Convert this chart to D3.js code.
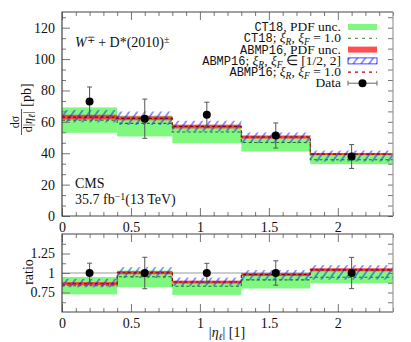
<!DOCTYPE html>
<html>
<head>
<meta charset="utf-8">
<script src="https://cdn.jsdelivr.net/npm/d3@7"></script>
<style>
  body { margin: 0; background: #fff; }
  text { font-family: "Liberation Serif", serif; fill: #111; }
  tspan.mono { font-family: "Liberation Mono", monospace; }
</style>
</head>
<body>
<svg id="chart" width="411" height="342"></svg>
<script>
// bins in |eta_l| and measured cross sections [pb]
var binEdges = [0, 0.4, 0.8, 1.3, 1.8, 2.4];
var binCenter = [0.2, 0.6, 1.05, 1.55, 2.1];
var dataVal = [73, 62, 64.5, 51.3, 37.9];
var dataErr = [9.2, 12.5, 8, 8, 7.6];
// CT18 prediction
var ct18Central = [61, 59, 53.5, 46.8, 35.8];
var ct18Lo = [53, 50.7, 46.4, 41.1, 33];
var ct18Hi = [69.2, 64, 57.5, 49.6, 38.5];
// ABMP16 prediction
var abmpCentral = [63, 62.2, 57, 50.3, 39.4];
var abmpPdfLo = [61.5, 61, 55.8, 49.3, 38.6];
var abmpPdfHi = [64.5, 63.5, 58.2, 51.3, 40.2];
var abmpScaleLo = [59.6, 58, 53.9, 46.4, 34.7];
var abmpScaleHi = [67.5, 66.6, 60.7, 53.2, 41.7];
// ticks
var xTicks = [0, 0.5, 1, 1.5, 2];
var yTicks = [0, 20, 40, 60, 80, 100, 120];
var rTicks = [0.75, 1, 1.25];

var svg = d3.select('#chart');
var x = d3.scaleLinear().domain([0, 2.4]).range([62, 393]);
var y = d3.scaleLinear().domain([0, 130]).range([216, 12]);
var yr = d3.scaleLinear().domain([0.5, 1.5]).range([312, 234]);

var green = '#80f880', red = '#f04838', blue = '#1a1aff';

var defs = svg.append('defs');
defs.append('pattern').attr('id', 'hatch').attr('patternUnits', 'userSpaceOnUse')
    .attr('width', 6.5).attr('height', 6.5).attr('patternTransform', 'rotate(35)')
  .append('line').attr('x1', 1).attr('x2', 1).attr('y1', 0).attr('y2', 6.5)
    .attr('stroke', blue).attr('stroke-width', 0.9);
defs.append('clipPath').attr('id', 'clipMain').append('rect')
    .attr('x', x(0)).attr('y', y(130)).attr('width', x(2.4) - x(0)).attr('height', y(0) - y(130));
defs.append('clipPath').attr('id', 'clipRatio').append('rect')
    .attr('x', x(0)).attr('y', yr(1.5)).attr('width', x(2.4) - x(0)).attr('height', yr(0.5) - yr(1.5));

/**
 * Draw bands and central lines into one panel.
 * @param {Object} ys y scale of the panel.
 * @param {Function} f maps (array, bin) to plotted value.
 */
var drawPanel = function(ys, f, clip) {
  var g = svg.append('g').attr('clip-path', 'url(#' + clip + ')');
  var bins = d3.range(dataVal.length);
  var band = function(lo, hi, fill) {
    g.selectAll(null).data(bins).enter().append('rect')
      .attr('x', function(i) { return x(binEdges[i]); })
      .attr('width', function(i) { return x(binEdges[i + 1]) - x(binEdges[i]); })
      .attr('y', function(i) { return ys(f(hi, i)); })
      .attr('height', function(i) { return ys(f(lo, i)) - ys(f(hi, i)); })
      .attr('fill', fill);
  };
  var step = function(arr, color) {
    var pts = [];
    bins.forEach(function(i) {
      pts.push([binEdges[i], f(arr, i)]);
      pts.push([binEdges[i + 1], f(arr, i)]);
    });
    g.append('path').datum(pts)
      .attr('d', d3.line().x(function(d) { return x(d[0]); }).y(function(d) { return ys(d[1]); }))
      .attr('fill', 'none').attr('stroke', color).attr('stroke-width', 1.1)
      .attr('stroke-dasharray', '3,2.5');
  };
  band(ct18Lo, ct18Hi, green);
  band(abmpPdfLo, abmpPdfHi, red);
  band(abmpScaleLo, abmpScaleHi, 'url(#hatch)');
  step(ct18Central, '#2e6b2e');
  step(abmpCentral, '#8a0000');
  return g;
};

var drawData = function(ys, vals, errs) {
  var g = svg.append('g');
  vals.forEach(function(v, i) {
    var cx = x(binCenter[i]);
    g.append('line').attr('x1', cx).attr('x2', cx)
      .attr('y1', ys(v - errs[i])).attr('y2', ys(v + errs[i]))
      .attr('stroke', '#555').attr('stroke-width', 1);
    [v - errs[i], v + errs[i]].forEach(function(e) {
      g.append('line').attr('x1', cx - 2.5).attr('x2', cx + 2.5)
        .attr('y1', ys(e)).attr('y2', ys(e)).attr('stroke', '#555');
    });
    g.append('circle').attr('cx', cx).attr('cy', ys(v)).attr('r', 4).attr('fill', '#000');
  });
};

/**
 * Frame and inward ticks of a panel.
 */
var drawAxes = function(ys, majorY, minorY, fmt) {
  var top = ys.range()[1], bot = ys.range()[0];
  var minorX = d3.range(0, 24.1, 1).map(function(d) { return d / 10; })
      .filter(function(d) { return Math.abs(d * 2 - Math.round(d * 2)) > 1e-6; });
  var style = function(sel, labels) {
    sel.select('.domain').remove();
    sel.selectAll('line').attr('stroke', '#777');
    sel.selectAll('text').style('font-size', '14px').style('font-family', '"Liberation Serif", serif')
      .attr('fill', '#111');
    if (!labels) sel.selectAll('text').remove();
  };
  svg.append('g').attr('transform', 'translate(0,' + bot + ')')
    .call(d3.axisBottom(x).tickValues(xTicks).tickSize(-8).tickPadding(6).tickFormat(d3.format('')))
    .call(style, true);
  svg.append('g').attr('transform', 'translate(0,' + bot + ')')
    .call(d3.axisBottom(x).tickValues(minorX).tickSize(-4)).call(style, false);
  svg.append('g').attr('transform', 'translate(0,' + top + ')')
    .call(d3.axisTop(x).tickValues(xTicks).tickSize(-8)).call(style, false);
  svg.append('g').attr('transform', 'translate(0,' + top + ')')
    .call(d3.axisTop(x).tickValues(minorX).tickSize(-4)).call(style, false);
  svg.append('g').attr('transform', 'translate(' + x(0) + ',0)')
    .call(d3.axisLeft(ys).tickValues(majorY).tickSize(-8).tickPadding(7).tickFormat(fmt))
    .call(style, true);
  svg.append('g').attr('transform', 'translate(' + x(0) + ',0)')
    .call(d3.axisLeft(ys).tickValues(minorY).tickSize(-4)).call(style, false);
  svg.append('g').attr('transform', 'translate(' + x(2.4) + ',0)')
    .call(d3.axisRight(ys).tickValues(majorY.concat(minorY)).tickSize(-5)).call(style, false);
  // frame
  svg.append('path')
    .attr('d', 'M' + x(2.4) + ',' + top + 'H' + x(0) + 'V' + bot + 'H' + x(2.4))
    .attr('fill', 'none').attr('stroke', '#444').attr('stroke-width', 1.2);
  svg.append('line').attr('x1', x(2.4)).attr('x2', x(2.4)).attr('y1', top).attr('y2', bot)
    .attr('stroke', '#999').attr('stroke-width', 1.2);
};

// main panel
drawPanel(y, function(a, i) { return a[i]; }, 'clipMain');
drawData(y, dataVal, dataErr);
var minorMain = d3.range(0, 130, 20 / 3).filter(function(d) { return Math.abs(d / 20 - Math.round(d / 20)) > 1e-6; });
drawAxes(y, yTicks, minorMain, d3.format('d'));

// ratio panel
svg.append('line').attr('x1', x(0)).attr('x2', x(2.4)).attr('y1', yr(1)).attr('y2', yr(1))
  .attr('stroke', '#999').attr('stroke-width', 1);
drawPanel(yr, function(a, i) { return a[i] / dataVal[i]; }, 'clipRatio');
drawData(yr, dataVal.map(function() { return 1; }), dataErr.map(function(e, i) { return e / dataVal[i]; }));
drawAxes(yr, rTicks, [0.625, 0.875, 1.125, 1.375], function(d) { return String(d); });

// rich text helper: parts = [text, kind]
var rich = function(xp, yp, parts, anchor, size, monoSize) {
  var t = svg.append('text').attr('x', xp).attr('y', yp)
    .attr('text-anchor', anchor || 'start').style('font-size', (size || 14) + 'px');
  parts.forEach(function(p) {
    var s = t.append('tspan').text(p[0]);
    if (p[1] === 'mono') s.attr('class', 'mono').style('font-size', (monoSize || 12) + 'px');
    if (p[1] === 'it') s.style('font-style', 'italic');
    if (p[1] === 'sub') s.style('font-style', 'italic').style('font-size', '9.5px').attr('baseline-shift', '-25%');
    if (p[1] === 'sup') s.style('font-size', '10px').attr('baseline-shift', '40%');
  });
  return t;
};

// annotations
rich(75, 47, [['W', 'it'], ['∓', 'sup'], [' + D*(2010)'], ['±', 'sup']]);
rich(75, 188, [['CMS']]);
rich(75, 204, [['35.7 fb'], ['−1', 'sup'], ['(13 TeV)']]);

// legend
var legX = 341, symX0 = 348, symX1 = 377, ls = 13.5;
var rows = [27, 38.3, 49.6, 60.9, 72.2, 83.2];
var lg = svg.append('g');
rich(legX, rows[0] + 4, [['CT18', 'mono'], [', PDF unc.']], 'end', ls);
lg.append('rect').attr('x', symX0).attr('y', rows[0] - 3).attr('width', symX1 - symX0).attr('height', 6).attr('fill', green);
rich(legX, rows[1] + 4, [['CT18', 'mono'], ['; '], ['ξ', 'it'], ['R', 'sub'], [', '], ['ξ', 'it'], ['F', 'sub'], [' = 1.0']], 'end', ls);
lg.append('line').attr('x1', symX0).attr('x2', symX1).attr('y1', rows[1]).attr('y2', rows[1])
  .attr('stroke', '#5aa05a').attr('stroke-width', 1.2).attr('stroke-dasharray', '3,4');
rich(legX, rows[2] + 4, [['ABMP16', 'mono'], [', PDF unc.']], 'end', ls);
lg.append('rect').attr('x', symX0).attr('y', rows[2] - 3).attr('width', symX1 - symX0).attr('height', 6).attr('fill', '#ff5050');
rich(legX, rows[3] + 4, [['ABMP16', 'mono'], ['; '], ['ξ', 'it'], ['R', 'sub'], [', '], ['ξ', 'it'], ['F', 'sub'], [' ∈ [1/2, 2]']], 'end', ls);
lg.append('rect').attr('x', symX0).attr('y', rows[3] - 3).attr('width', symX1 - symX0).attr('height', 6)
  .attr('fill', 'url(#hatch)').attr('stroke', blue).attr('stroke-width', 0.8);
rich(legX, rows[4] + 4, [['ABMP16', 'mono'], ['; '], ['ξ', 'it'], ['R', 'sub'], [', '], ['ξ', 'it'], ['F', 'sub'], [' = 1.0']], 'end', ls);
lg.append('line').attr('x1', symX0).attr('x2', symX1).attr('y1', rows[4]).attr('y2', rows[4])
  .attr('stroke', '#b00000').attr('stroke-width', 1.2).attr('stroke-dasharray', '3,4');
rich(legX, rows[5] + 4, [['Data']], 'end', ls);
lg.append('line').attr('x1', symX0).attr('x2', symX1).attr('y1', rows[5]).attr('y2', rows[5]).attr('stroke', '#666');
[symX0, symX1].forEach(function(cx) {
  lg.append('line').attr('x1', cx).attr('x2', cx).attr('y1', rows[5] - 2.5).attr('y2', rows[5] + 2.5).attr('stroke', '#666');
});
lg.append('circle').attr('cx', (symX0 + symX1) / 2).attr('cy', rows[5]).attr('r', 4).attr('fill', '#000');

// axis titles
svg.append('text').attr('transform', 'translate(19,122) rotate(-90)').attr('text-anchor', 'middle')
  .style('font-size', '12px').text('dσ');
svg.append('line').attr('x1', 21.5).attr('x2', 21.5).attr('y1', 109).attr('y2', 135).attr('stroke', '#111').attr('stroke-width', 0.7);
rich(0, 0, [['d|'], ['η', 'it'], ['ℓ', 'sub'], ['|']], 'middle', 12)
  .attr('x', null).attr('y', null).attr('transform', 'translate(32,122) rotate(-90)');
svg.append('text').attr('transform', 'translate(31,95) rotate(-90)').attr('text-anchor', 'middle')
  .style('font-size', '14px').text('[pb]');
svg.append('text').attr('transform', 'translate(33,272) rotate(-90)').attr('text-anchor', 'middle')
  .style('font-size', '14px').text('ratio');
rich(227, 337, [['|'], ['η', 'it'], ['ℓ', 'sub'], ['| [1]']], 'middle');
</script>
</body>
</html>
